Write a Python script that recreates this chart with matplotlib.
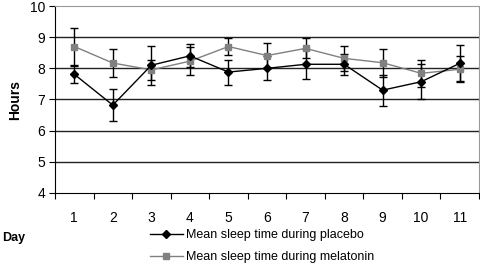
import numpy as np
import matplotlib
matplotlib.use("Agg")
import matplotlib.pyplot as plt

plt.rcParams["font.family"] = ["Liberation Sans", "DejaVu Sans"]

days = np.arange(1, 12)
placebo_mean = [7.81, 6.82, 8.10, 8.40, 7.88, 8.00, 8.13, 8.13, 7.30, 7.57, 8.16]
placebo_err = [0.27, 0.52, 0.63, 0.37, 0.40, 0.38, 0.48, 0.33, 0.50, 0.56, 0.58]
melatonin_mean = [8.70, 8.17, 7.95, 8.23, 8.70, 8.41, 8.64, 8.32, 8.18, 7.84, 7.97]
melatonin_err = [0.58, 0.44, 0.33, 0.45, 0.27, 0.39, 0.32, 0.40, 0.45, 0.43, 0.42]

fig = plt.figure(figsize=(4.8, 2.66), dpi=100)
ax = fig.add_axes([55 / 480, 1 - 193 / 266, 424 / 480, 187 / 266])

# gridlines
for y in range(5, 10):
    ax.axhline(y, color="#222222", lw=1.0, zorder=1)

ax.errorbar(days, melatonin_mean, yerr=melatonin_err, fmt="none", ecolor="black",
            elinewidth=1, capsize=3, capthick=1, zorder=2)
ax.errorbar(days, placebo_mean, yerr=placebo_err, fmt="none", ecolor="black",
            elinewidth=1, capsize=3, capthick=1, zorder=2)
l2, = ax.plot(days, melatonin_mean, color="#808080", marker="s", ms=5, lw=1.0,
              label="Mean sleep time during melatonin", zorder=3)
l1, = ax.plot(days, placebo_mean, color="black", marker="D", ms=4.5, lw=1.0,
              label="Mean sleep time during placebo", zorder=4)

ax.set_xlim(0.5, 11.5)
ax.set_ylim(4, 10)
ax.set_yticks(range(4, 11))
ax.tick_params(axis="y", labelsize=10, length=4, direction="out", pad=3)
ax.set_xticks(np.arange(0.5, 12, 1))
ax.set_xticklabels([])
ax.set_xticks(days, minor=True)
ax.set_xticklabels([str(d) for d in days], minor=True)
ax.tick_params(axis="x", which="major", length=4, direction="out")
ax.tick_params(axis="x", which="minor", length=0, labelsize=10, pad=13)

for s in ["top", "right"]:
    ax.spines[s].set_color("#999999")
ax.spines["left"].set_color("black")
ax.spines["bottom"].set_color("black")

fig.text(15 / 480, 1 - 100 / 266, "Hours", rotation=90, ha="center", va="center",
         fontsize=10, fontweight="bold")
fig.text(2 / 480, 1 - 238 / 266, "Day", ha="left", va="center",
         fontsize=9, fontweight="bold")

fig.legend(handles=[l1, l2], loc="upper left", bbox_to_anchor=(150 / 480, 1 - 229 / 266),
           frameon=False, fontsize=9, handlelength=2.6, handletextpad=0.3,
           labelspacing=0.8, borderaxespad=0, borderpad=0)

fig.savefig("out.png", dpi=100)
